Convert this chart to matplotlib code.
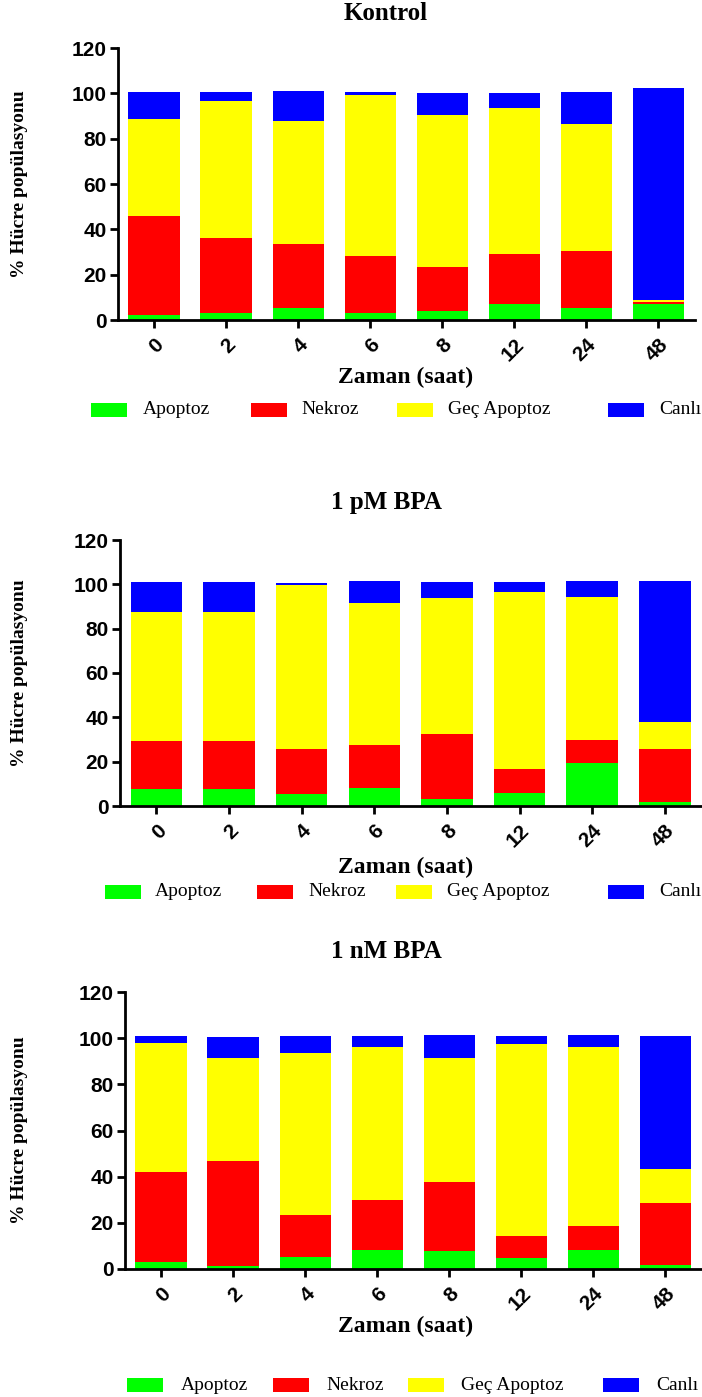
import matplotlib
matplotlib.use("Agg")
import matplotlib.pyplot as plt
import numpy as np
from matplotlib.patches import Rectangle

W, H = 702, 1397

zaman = ["0", "2", "4", "6", "8", "12", "24", "48"]
seriler = ["Apoptoz", "Nekroz", "Geç Apoptoz", "Canlı"]
renkler = ["#00ff00", "#ff0000", "#ffff00", "#0000ff"]

# Kontrol
kontrol_apop = [2.0, 2.9, 5.3, 3.2, 4.0, 7.0, 5.3, 7.0]
kontrol_nekroz = [43.9, 33.1, 28.1, 25.0, 19.4, 22.0, 25.0, 1.1]
kontrol_gec = [42.6, 60.6, 54.2, 71.2, 67.0, 64.4, 56.0, 0.9]
kontrol_canli = [12.1, 4.0, 13.4, 1.2, 9.7, 6.7, 14.3, 93.5]

# 1 pM BPA
pm_apop = [7.7, 7.7, 5.4, 8.1, 3.3, 6.0, 19.2, 2.0]
pm_nekroz = [21.4, 21.4, 20.4, 19.4, 29.3, 10.7, 10.7, 23.8]
pm_gec = [58.3, 58.3, 73.7, 63.9, 61.4, 80.0, 64.5, 12.0]
pm_canli = [13.5, 13.5, 1.0, 10.0, 6.9, 4.2, 7.0, 63.6]

# 1 nM BPA
nm_apop = [3.0, 1.4, 5.1, 8.4, 7.8, 4.8, 8.4, 1.9]
nm_nekroz = [39.0, 45.3, 18.2, 21.3, 29.8, 9.7, 10.1, 26.9]
nm_gec = [56.1, 44.8, 70.3, 66.4, 53.9, 83.0, 77.6, 14.6]
nm_canli = [2.8, 8.9, 7.3, 4.8, 9.9, 3.4, 5.1, 57.5]

paneller = [
    ("Kontrol", [kontrol_apop, kontrol_nekroz, kontrol_gec, kontrol_canli]),
    ("1 pM BPA", [pm_apop, pm_nekroz, pm_gec, pm_canli]),
    ("1 nM BPA", [nm_apop, nm_nekroz, nm_gec, nm_canli]),
]

# layout in pixels: (left, right, y of 0, y of 120, title y, xlabel y, legend y)
yerlesim = [
    (118, 695, 320, 48, 14, 377, 410),
    (120, 702, 806, 540, 502, 867, 892),
    (125, 702, 1269, 992, 952, 1326, 1385),
]
# legend positions: patch left x, text left x
legend_x = [
    ([91, 251, 397, 608], [143, 301, 448, 659]),
    ([105, 257, 396, 608], [155, 308, 447, 659]),
    ([127, 273, 408, 603], [181, 326, 461, 656]),
]

serif = "Liberation Serif"
sans = "Liberation Sans"

fig = plt.figure(figsize=(W / 100, H / 100), dpi=100)


def fx(px):
    return px / W


def fy(py):
    return 1 - py / H


x = np.arange(len(zaman))
for (baslik, veriler), (sol, sag, y0, y120, ty, xly, ly), (px, tx) in zip(paneller, yerlesim, legend_x):
    ax = fig.add_axes([fx(sol), fy(y0), fx(sag - sol), (y0 - y120) / H])
    alt = np.zeros(len(zaman))
    for veri, renk, ad in zip(veriler, renkler, seriler):
        ax.bar(x, veri, 0.71, bottom=alt, color=renk, label=ad)
        alt += np.array(veri)
    ax.set_xlim(-0.5, 7.51)
    ax.set_ylim(0, 120)
    ax.set_yticks(range(0, 121, 20))
    ax.set_xticks(x)
    ax.set_xticklabels(zaman, rotation=45, ha="right", va="top",
                       rotation_mode="anchor", fontfamily=sans,
                       fontweight="bold", fontsize=15)
    for lab in ax.get_yticklabels():
        lab.set_fontfamily(sans)
        lab.set_fontweight("bold")
        lab.set_fontsize(15)
    for s in ["top", "right"]:
        ax.spines[s].set_visible(False)
    for s in ["left", "bottom"]:
        ax.spines[s].set_linewidth(2)
    ax.tick_params(width=2, length=6, pad=2)
    ax.tick_params(axis="x", pad=5)

    fig.text(fx(386), fy(ty), baslik, ha="center", va="center",
             fontfamily=serif, fontweight="bold", fontsize=18)
    fig.text(fx(406), fy(xly), "Zaman (saat)", ha="center", va="center",
             fontfamily=serif, fontweight="bold", fontsize=17)
    fig.text(fx(20), fy((y0 + y120) / 2), "% Hücre popülasyonu",
             ha="center", va="center", rotation=90,
             fontfamily=serif, fontweight="bold", fontsize=14)

    for p, t, renk, ad in zip(px, tx, renkler, seriler):
        fig.patches.append(Rectangle((fx(p), fy(ly + 7)), fx(36), 14 / H,
                                     transform=fig.transFigure,
                                     facecolor=renk, edgecolor="none"))
        fig.text(fx(t), fy(ly), ad, ha="left", va="center",
                 fontfamily=serif, fontsize=14)

fig.savefig("out.png", dpi=100)
